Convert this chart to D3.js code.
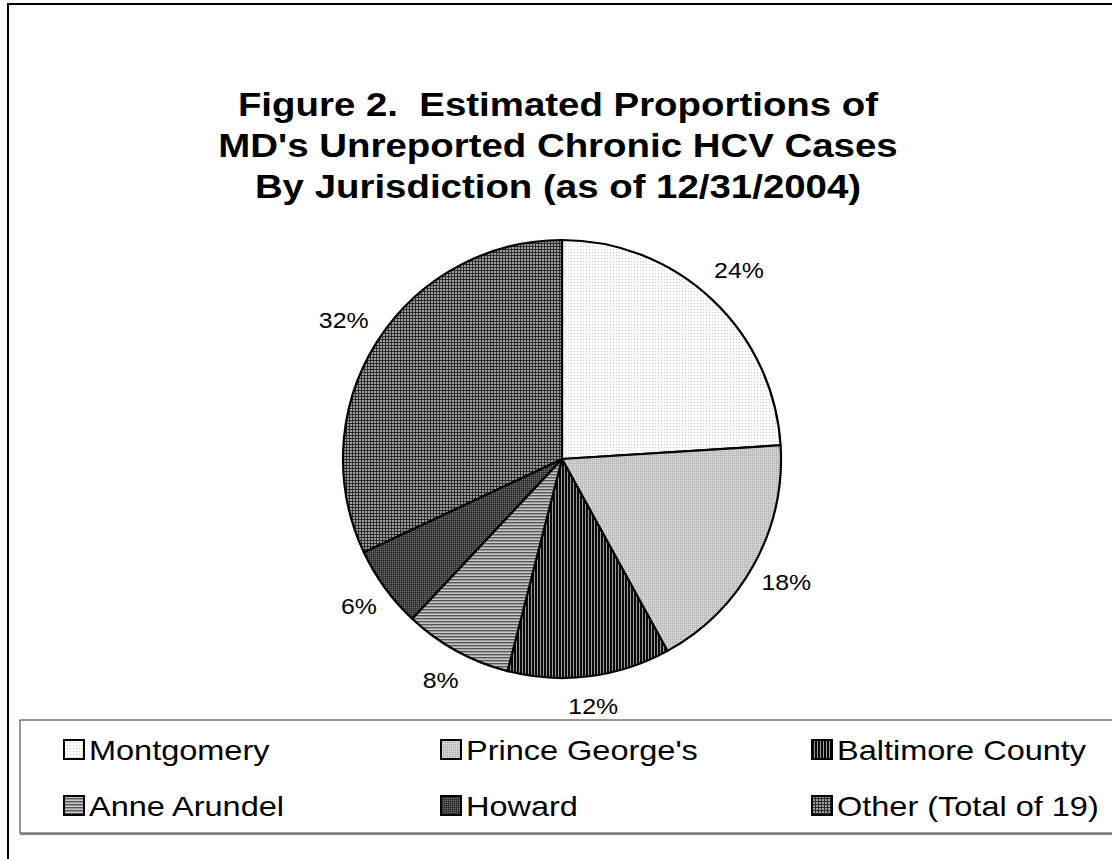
<!DOCTYPE html>
<html lang="en">
<head>
    <meta charset="utf-8">
    <title>Figure 2 - Unreported Chronic HCV Cases</title>
    <script src="https://d3js.org/d3.v7.min.js"></script>
    <style>
        body { margin: 0; background: #fff; }
        text { font-family: "Liberation Sans", Arial, sans-serif; fill: #000; }
    </style>
</head>
<body>
    <svg id="chart" width="1112" height="859"></svg>
    <script>
        // data
        var jurisdictions = ["Montgomery", "Prince George's", "Baltimore County", "Anne Arundel", "Howard", "Other (Total of 19)"];
        var percents = [24, 18, 12, 8, 6, 32];
        var titleLines = ["Figure 2.  Estimated Proportions of", "MD's Unreported Chronic HCV Cases", "By Jurisdiction (as of 12/31/2004)"];
        // legend order as in the picture (row by row)
        var legendOrder = ["Montgomery", "Prince George's", "Baltimore County", "Anne Arundel", "Howard", "Other (Total of 19)"];

        // the original text looks a bit wider than plain Arial
        var stretch = 1.13;
        // how far outside the pie each percent label sits (best-fit style)
        var labelOffset = [39.5, 37, 30, 33, 32, 39.5];

        var svg = d3.select("#chart");
        var defs = svg.append("defs");

        // fill patterns that mimic the old black & white hatches
        function makePattern(id, w, h, bg, rects) {
            var p = defs.append("pattern")
                .attr("id", id)
                .attr("patternUnits", "userSpaceOnUse")
                .attr("width", w).attr("height", h);
            p.append("rect").attr("width", w).attr("height", h).attr("fill", bg);
            rects.forEach(function(r) {
                p.append("rect").attr("x", r[0]).attr("y", r[1])
                    .attr("width", r[2]).attr("height", r[3]).attr("fill", r[4]);
            });
        }
        makePattern("p0", 3, 3, "#ffffff", [[0, 0, 1, 1, "#c4c4c4"]]);
        makePattern("p1", 2, 2, "#d2d2d2", [[0, 0, 1, 1, "#a6a6a6"]]);
        makePattern("p2", 3, 3, "#9a9a9a", [[0, 0, 2, 3, "#0a0a0a"]]);
        makePattern("p3", 3, 3, "#c8c8c8", [[0, 0, 3, 1, "#555555"], [0, 1, 3, 1, "#9a9a9a"]]);
        makePattern("p4", 2, 2, "#333333", [[0, 0, 1, 1, "#7a7a7a"]]);
        makePattern("p5", 3, 3, "#a0a0a0", [[0, 0, 3, 1, "#2a2a2a"], [0, 0, 1, 3, "#2a2a2a"]]);

        function fillFor(name) {
            return "url(#p" + jurisdictions.indexOf(name) + ")";
        }

        // outer frame (runs off the right and bottom like the original)
        svg.append("rect")
            .attr("x", 8).attr("y", 4)
            .attr("width", 1200).attr("height", 900)
            .attr("fill", "none")
            .attr("stroke", "#000")
            .attr("stroke-width", 2);

        // title
        svg.append("g").selectAll("text")
            .data(titleLines)
            .enter().append("text")
            .attr("transform", function(d, i) {
                return "translate(558," + (116 + i * 41) + ") scale(" + stretch + ",1)";
            })
            .attr("text-anchor", "middle")
            .style("font-size", "34px")
            .style("font-weight", "bold")
            .attr("xml:space", "preserve")
            .text(function(d) { return d; });

        // pie
        var cx = 562, cy = 459, radius = 219;
        var data = jurisdictions.map(function(name, i) {
            return { name: name, value: percents[i] };
        });
        var pie = d3.pie()
            .sort(null)
            .value(function(d) { return d.value; });
        var arc = d3.arc().innerRadius(0).outerRadius(radius);

        var g = svg.append("g")
            .attr("transform", "translate(" + cx + "," + cy + ")");

        var arcs = pie(data);
        g.selectAll("path")
            .data(arcs)
            .enter().append("path")
            .attr("d", arc)
            .attr("fill", function(d) { return fillFor(d.data.name); })
            .attr("stroke", "#000")
            .attr("stroke-width", 2.2)
            .attr("stroke-linejoin", "round");

        g.selectAll(".lbl")
            .data(arcs)
            .enter().append("text")
            .attr("class", "lbl")
            .attr("transform", function(d, i) {
                var r = radius + labelOffset[i];
                var c = d3.arc().innerRadius(r).outerRadius(r).centroid(d);
                return "translate(" + c + ") scale(" + stretch + ",1)";
            })
            .attr("text-anchor", "middle")
            .attr("dy", "0.35em")
            .style("font-size", "22px")
            .text(function(d) { return d.data.value + "%"; });

        // legend box
        var legend = svg.append("g");
        legend.append("rect")
            .attr("x", 20).attr("y", 720)
            .attr("width", 1140).attr("height", 113)
            .attr("fill", "#fff")
            .attr("stroke", "#333")
            .attr("stroke-width", 1);
        legend.append("line")
            .attr("x1", 20).attr("x2", 1112)
            .attr("y1", 834).attr("y2", 834)
            .attr("stroke", "#808080")
            .attr("stroke-width", 2);

        var colX = [64, 441, 812], rowY = [760, 816];
        var items = legend.selectAll(".item")
            .data(legendOrder)
            .enter().append("g")
            .attr("class", "item")
            .attr("transform", function(d, i) {
                return "translate(" + colX[i % 3] + "," + rowY[Math.floor(i / 3)] + ")";
            });
        items.append("rect")
            .attr("x", 0).attr("y", -20)
            .attr("width", 20).attr("height", 19)
            .attr("fill", function(d) { return fillFor(d); })
            .attr("stroke", "#000")
            .attr("stroke-width", 2);
        items.append("text")
            .attr("transform", "translate(25,0) scale(1.14,1)")
            .style("font-size", "28.5px")
            .text(function(d) { return d; });
    </script>
</body>
</html>
